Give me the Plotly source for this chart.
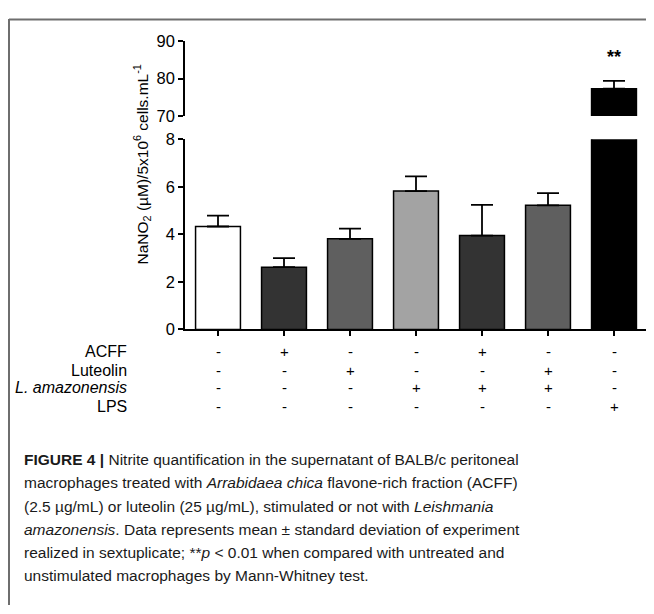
import plotly.graph_objects as go

# page body has an 8px margin: figure is placed at (8, 8) in the window
OFF = 8
W, H = 654 - OFF, 614 - OFF

groups = ["Control", "ACFF", "Luteolin", "L. amazonensis", "ACFF + L. amazonensis", "Luteolin + L. amazonensis", "LPS"]
means = [4.33, 2.62, 3.81, 5.82, 3.95, 5.22, 77.3]
sd = [0.46, 0.38, 0.43, 0.62, 1.29, 0.51, 2.1]
colors = ["#ffffff", "#333333", "#5f5f5f", "#a3a3a3", "#333333", "#5f5f5f", "#000000"]

row_labels = ["ACFF", "Luteolin", "<i>L. amazonensis</i>", "LPS"]
row_marks = [
    ["-", "+", "-", "-", "+", "-", "-"],
    ["-", "-", "+", "-", "-", "+", "-"],
    ["-", "-", "-", "+", "+", "+", "-"],
    ["-", "-", "-", "-", "-", "-", "+"],
]
lower_ticks = [0, 2, 4, 6, 8]
upper_ticks = [70, 80, 90]

caption_lines = [
    "<b>FIGURE 4 |</b> Nitrite quantification in the supernatant of BALB/c peritoneal",
    "macrophages treated with <i>Arrabidaea chica</i> flavone-rich fraction (ACFF)",
    "(2.5 µg/mL) or luteolin (25 µg/mL), stimulated or not with <i>Leishmania</i>",
    "<i>amazonensis</i>. Data represents mean ± standard deviation of experiment",
    "realized in sextuplicate; **<i>p</i> &lt; 0.01 when compared with untreated and",
    "unstimulated macrophages by Mann-Whitney test.",
]

def px(x):
    return (x - OFF) / W

def py(y):
    return 1 - (y - OFF) / H

FONT = "Liberation Sans, Arial, sans-serif"
xs = list(range(len(groups)))

fig = go.Figure()
common = dict(
    marker=dict(color=colors, line=dict(color="#000000", width=1.5)),
    width=0.68,
    error_y=dict(type="data", symmetric=False, array=sd, arrayminus=[0] * len(sd),
                 color="#000000", thickness=1.8, width=11),
    showlegend=False,
    hoverinfo="skip",
)
fig.add_trace(go.Bar(x=xs, y=means, xaxis="x", yaxis="y", **common))
fig.add_trace(go.Bar(x=xs, y=means, xaxis="x2", yaxis="y2", **common))

axis_font = dict(family=FONT, size=16.5, color="#000000")
fig.update_layout(
    width=W, height=H,
    margin=dict(l=0, r=0, t=0, b=0),
    paper_bgcolor="#ffffff", plot_bgcolor="rgba(0,0,0,0)",
    xaxis=dict(domain=[px(185), px(647)], range=[-0.5, 6.5], anchor="y",
               showline=True, linecolor="#000000", linewidth=1.5,
               ticks="outside", ticklen=5, tickwidth=1.5, tickcolor="#000000",
               tickvals=xs, showticklabels=False, showgrid=False, zeroline=False,
               fixedrange=True),
    xaxis2=dict(domain=[px(185), px(647)], range=[-0.5, 6.5], anchor="y2",
                matches="x", visible=False),
    yaxis=dict(domain=[py(330), py(134)], range=[0, 8], anchor="x",
               showline=True, linecolor="#000000", linewidth=1.5,
               ticks="outside", ticklen=5, tickwidth=1.5, tickcolor="#000000",
               tickvals=lower_ticks, tickfont=axis_font, showgrid=False, zeroline=False),
    yaxis2=dict(domain=[py(110), py(33)], range=[70, 90], anchor="x2",
                showline=True, linecolor="#000000", linewidth=1.5,
                ticks="outside", ticklen=5, tickwidth=1.5, tickcolor="#000000",
                tickvals=upper_ticks, tickfont=axis_font, showgrid=False, zeroline=False),
)

# y-axis title
fig.add_annotation(
    text="NaNO<sub>2</sub> (µM)/5x10<sup>6</sup> cells.mL<sup>-1</sup>",
    xref="paper", yref="paper", x=px(143), y=py(160), textangle=-90,
    showarrow=False, font=dict(family=FONT, size=15.5, color="#000000"),
    xanchor="center", yanchor="middle",
)

# significance
fig.add_annotation(text="<b>**</b>", xref="x2", yref="paper", x=6, y=py(37),
                   showarrow=False, font=dict(family=FONT, size=18, color="#000000"))

# treatment table
row_y = [353, 372, 390, 409]
for label, marks, yy in zip(row_labels, row_marks, row_y):
    fig.add_annotation(text=label, xref="paper", yref="paper", x=px(129), y=py(yy),
                       xanchor="right", yanchor="middle", showarrow=False,
                       font=dict(family=FONT, size=16, color="#000000"))
    for xi, m in zip(xs, marks):
        fig.add_annotation(text=m, xref="x", yref="paper", x=xi, y=py(yy),
                           xanchor="center", yanchor="middle", showarrow=False,
                           font=dict(family=FONT, size=15, color="#000000"))

# caption
for i, line in enumerate(caption_lines):
    fig.add_annotation(text=line, xref="paper", yref="paper", x=px(22), y=py(464 + 24 * i),
                       xanchor="left", yanchor="middle", showarrow=False,
                       font=dict(family=FONT, size=15.5, color="#1a1a1a"))

# frame
fig.add_shape(type="line", xref="paper", yref="paper", x0=px(9), x1=1, y0=py(10.5), y1=py(10.5),
              line=dict(color="#6e6e6e", width=2))
fig.add_shape(type="line", xref="paper", yref="paper", x0=px(9), x1=px(9), y0=py(10), y1=0,
              line=dict(color="#6e6e6e", width=2))

fig.write_html("out.html")
